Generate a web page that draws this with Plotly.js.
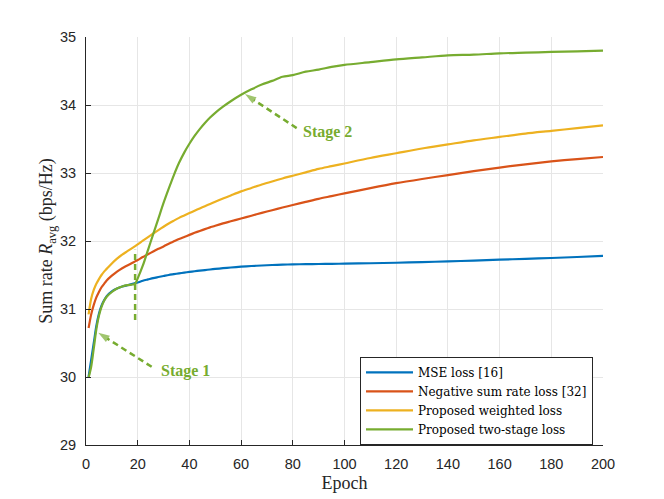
<!DOCTYPE html>
<html>
<head>
<meta charset="utf-8">
<script src="https://cdn.plot.ly/plotly-3.0.1.min.js"></script>
<style>
  html, body { margin: 0; padding: 0; background: #fff; }
  #chart { width: 664px; height: 499px; }
</style>
</head>
<body>
<div id="chart"></div>
<script>
// epochs
let epoch = [1, 2, 3, 4, 5, 6, 7, 8, 10, 12, 14, 16, 18, 19, 20, 22, 24, 26, 28, 30,
  32, 34, 36, 38, 40, 42, 44, 46, 48, 50, 53, 56, 60, 64, 68, 72, 76, 80, 85, 90,
  95, 100, 110, 120, 130, 140, 150, 160, 170, 180, 190, 200];

let mse_loss = [30.0, 30.25, 30.5, 30.75, 30.93, 31.05, 31.13, 31.19, 31.26, 31.3,
  31.33, 31.35, 31.37, 31.38, 31.39, 31.415, 31.435, 31.455, 31.47, 31.485,
  31.5, 31.512, 31.524, 31.535, 31.545, 31.555, 31.564, 31.573, 31.581, 31.589,
  31.6, 31.61, 31.622, 31.632, 31.64, 31.647, 31.652, 31.656, 31.66, 31.662,
  31.664, 31.667, 31.673, 31.68, 31.69, 31.7, 31.712, 31.725, 31.738, 31.75, 31.765, 31.78];

let neg_rate_loss = [30.72, 30.92, 31.06, 31.17, 31.25, 31.32, 31.37, 31.42, 31.49, 31.55,
  31.6, 31.64, 31.68, 31.7, 31.72, 31.765, 31.805, 31.845, 31.885, 31.92,
  31.96, 31.995, 32.03, 32.06, 32.09, 32.12, 32.148, 32.175, 32.2, 32.225,
  32.26, 32.29, 32.33, 32.372, 32.413, 32.453, 32.492, 32.53, 32.575, 32.62,
  32.66, 32.7, 32.777, 32.85, 32.912, 32.97, 33.027, 33.08, 33.128, 33.17, 33.205, 33.235];

let weighted_loss = [30.92, 31.15, 31.28, 31.37, 31.44, 31.5, 31.55, 31.59, 31.67, 31.74,
  31.8, 31.85, 31.9, 31.925, 31.95, 32.005, 32.058, 32.11, 32.16, 32.21,
  32.258, 32.3, 32.34, 32.375, 32.41, 32.445, 32.479, 32.512, 32.545, 32.577,
  32.624, 32.67, 32.73, 32.78, 32.83, 32.876, 32.92, 32.96, 33.01, 33.06,
  33.1, 33.14, 33.22, 33.29, 33.36, 33.42, 33.48, 33.53, 33.58, 33.62, 33.66, 33.7];

let two_stage_loss = [29.99, 30.15, 30.42, 30.7, 30.9, 31.03, 31.12, 31.18, 31.25, 31.3,
  31.33, 31.35, 31.36, 31.37, 31.45, 31.64, 31.87, 32.1, 32.33, 32.56,
  32.77, 32.97, 33.15, 33.3, 33.43, 33.545, 33.645, 33.735, 33.815, 33.885,
  33.975, 34.055, 34.15, 34.23, 34.3, 34.355, 34.415, 34.44, 34.49, 34.52,
  34.56, 34.59, 34.63, 34.67, 34.7, 34.73, 34.74, 34.76, 34.77, 34.78, 34.79, 34.8];

let series_names = ['MSE loss [16]', 'Negative sum rate loss [32]',
  'Proposed weighted loss', 'Proposed two-stage loss'];
let series_colors = ['#0072BD', '#D95319', '#EDB120', '#77AC30'];
let series_values = [mse_loss, neg_rate_loss, weighted_loss, two_stage_loss];

let x_ticks = [0, 20, 40, 60, 80, 100, 120, 140, 160, 180, 200];
let y_ticks = [29, 30, 31, 32, 33, 34, 35];

// stage markers: tail -> head of the dashed arrow, and where the label sits
let stage1_arrow_x = [25.4, 4.75];
let stage1_arrow_y = [30.15, 30.65];
let stage1_label = [38.3, 30.09];
let stage2_arrow_x = [81.5, 61.5];
let stage2_arrow_y = [33.66, 34.16];
let stage2_label = [93.4, 33.61];
let split_x = [19, 19];
let split_y = [30.84, 31.87];

const green = '#77AC30';
const axis_color = '#262626';
const serif = 'Liberation Serif, Times New Roman, serif';

let traces = series_values.map(function (vals, i) {
  return {
    x: epoch,
    y: vals,
    mode: 'lines',
    name: series_names[i],
    line: { color: series_colors[i], width: 2.2, shape: 'spline', smoothing: 0.8 }
  };
});

function dashedArrow(xs, ys, withHead) {
  return {
    x: xs, y: ys,
    mode: withHead ? 'lines+markers' : 'lines',
    showlegend: false,
    hoverinfo: 'skip',
    line: { color: green, width: 2.5, dash: '6px,4px' },
    marker: {
      symbol: 'arrow', size: [0, 12], color: green,
      angleref: 'previous', line: { width: 0 }
    }
  };
}

traces.push(dashedArrow(stage1_arrow_x, stage1_arrow_y, true));
traces.push(dashedArrow(stage2_arrow_x, stage2_arrow_y, true));
traces.push(dashedArrow(split_x, split_y, false));

function label(pos, txt) {
  return {
    x: pos[0], y: pos[1], xref: 'x', yref: 'y', showarrow: false,
    text: '<b>' + txt + '</b>',
    font: { family: serif, size: 16, color: green }
  };
}

let layout = {
  width: 664,
  height: 499,
  margin: { l: 86, r: 61, t: 37, b: 54 },
  paper_bgcolor: '#fff',
  plot_bgcolor: '#fff',
  showlegend: true,
  legend: {
    x: 0.53, y: 0.216, xanchor: 'left', yanchor: 'top',
    bgcolor: '#fff', bordercolor: axis_color, borderwidth: 1,
    font: { family: 'DejaVu Serif, serif', size: 12, color: '#000' },
    tracegroupgap: 0,
    itemwidth: 47
  },
  xaxis: {
    range: [0, 200],
    tickvals: x_ticks,
    ticktext: x_ticks.map(String),
    ticks: 'inside', ticklen: 5, tickcolor: axis_color,
    ticklabelstandoff: 6,
    showline: true, linecolor: axis_color, linewidth: 1,
    showgrid: true, gridcolor: '#e6e6e6', gridwidth: 1,
    zeroline: false,
    tickfont: { family: 'Liberation Sans, Arial, sans-serif', size: 14.5, color: axis_color },
    title: { text: 'Epoch', font: { family: serif, size: 18, color: axis_color }, standoff: 4 }
  },
  yaxis: {
    range: [29, 35],
    tickvals: y_ticks,
    ticktext: y_ticks.map(String),
    ticks: 'inside', ticklen: 5, tickcolor: axis_color,
    ticklabelstandoff: 6,
    showline: true, linecolor: axis_color, linewidth: 1,
    showgrid: true, gridcolor: '#e6e6e6', gridwidth: 1,
    zeroline: false,
    tickfont: { family: 'Liberation Sans, Arial, sans-serif', size: 14.5, color: axis_color },
    title: {
      text: 'Sum rate <i>R</i><sub>avg</sub> (bps/Hz)',
      font: { family: serif, size: 18, color: axis_color }, standoff: 2
    }
  },
  annotations: [
    label(stage1_label, 'Stage 1'), label(stage2_label, 'Stage 2')
  ]
};

Plotly.newPlot('chart', traces, layout, { displayModeBar: false, staticPlot: true });
</script>
</body>
</html>
